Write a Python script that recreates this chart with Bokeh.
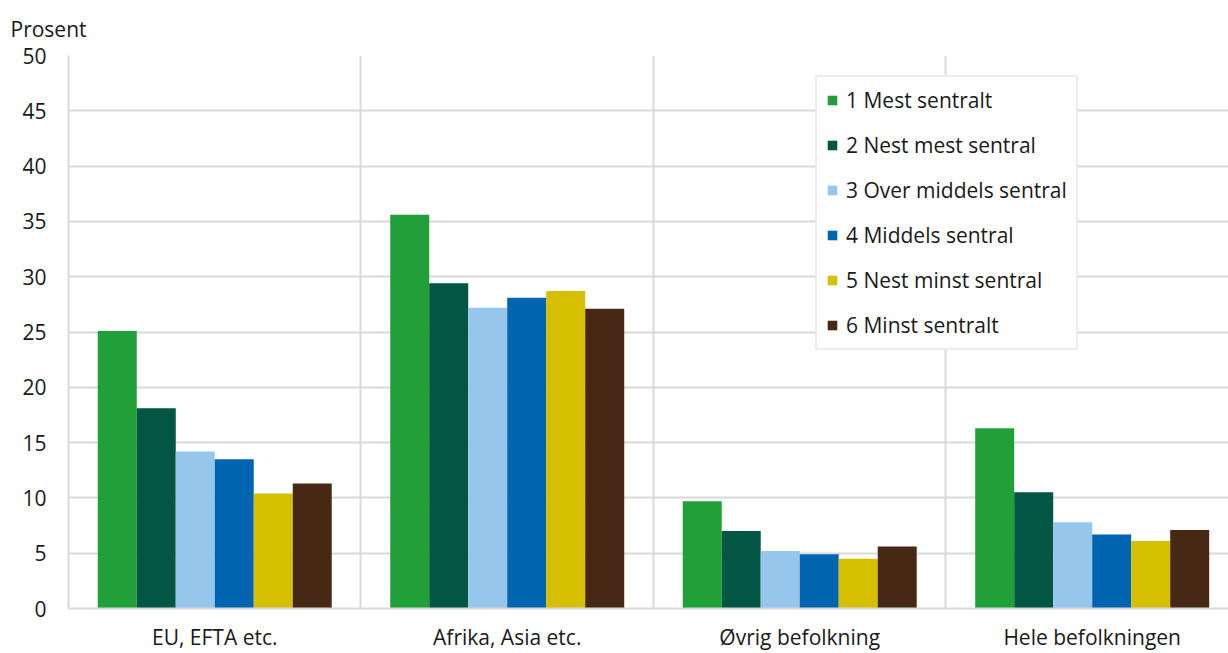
from bokeh.plotting import figure
from bokeh.models import Range1d, FixedTicker, Legend, LegendItem
from bokeh.embed import file_html
from bokeh.resources import INLINE

categories = ["EU, EFTA etc.", "Afrika, Asia etc.", "Øvrig befolkning", "Hele befolkningen"]
series_names = ["1 Mest sentralt", "2 Nest mest sentral", "3 Over middels sentral",
                "4 Middels sentral", "5 Nest minst sentral", "6 Minst sentralt"]
s1 = [25.1, 35.6, 9.7, 16.3]
s2 = [18.1, 29.4, 7.0, 10.5]
s3 = [14.2, 27.2, 5.2, 7.8]
s4 = [13.5, 28.1, 4.9, 6.7]
s5 = [10.4, 28.7, 4.5, 6.1]
s6 = [11.3, 27.1, 5.6, 7.1]
colors = ["#21a039", "#035544", "#96c6eb", "#0064b0", "#d6be00", "#472814"]
y_ticks = [0, 5, 10, 15, 20, 25, 30, 35, 40, 45, 50]

series = [s1, s2, s3, s4, s5, s6]
FONT = "Open Sans"
TXT = "#1a1a1a"
GRID = "#d9d9d9"
FS = "21px"

p = figure(width=1228, height=653, output_backend="svg", toolbar_location=None,
           x_range=Range1d(0, 3.966), y_range=Range1d(0, 50),
           min_border_left=68, min_border_right=0, min_border_bottom=45, min_border_top=55)
p.outline_line_color = None
p.background_fill_color = "white"

n = len(series)
bw = 0.8 / n
items = []
for j, (vals, name, col) in enumerate(zip(series, series_names, colors)):
    xs = [i + 0.1 + bw * (j + 0.5) for i in range(len(categories))]
    r = p.vbar(x=xs, top=vals, width=bw, fill_color=col, line_color=None)
    items.append(LegendItem(label=name, renderers=[r]))

# axes
p.xaxis.ticker = FixedTicker(ticks=[i + 0.5 for i in range(len(categories))])
p.xaxis.major_label_overrides = {i + 0.5: c for i, c in enumerate(categories)}
p.yaxis.ticker = FixedTicker(ticks=y_ticks)
for ax in (p.xaxis[0], p.yaxis[0]):
    ax.major_tick_line_color = None
    ax.minor_tick_line_color = None
    ax.axis_line_color = GRID
    ax.axis_line_width = 2
    ax.major_label_text_font = FONT
    ax.major_label_text_font_size = FS
    ax.major_label_text_color = TXT
p.xaxis.major_label_standoff = 8
p.yaxis.major_label_standoff = 16

p.ygrid.ticker = FixedTicker(ticks=y_ticks[1:])
p.ygrid.grid_line_color = GRID
p.ygrid.grid_line_width = 2
p.xgrid.ticker = FixedTicker(ticks=[1, 2, 3])
p.xgrid.grid_line_color = GRID
p.xgrid.grid_line_width = 2
p.ygrid.level = "underlay"
p.xgrid.level = "underlay"

p.title.text = "Prosent"
p.title.text_font = FONT
p.title.text_font_size = FS
p.title.text_font_style = "normal"
p.title.text_color = TXT
p.title.align = "left"
p.title.offset = -58
p.title.standoff = 25

legend = Legend(items=items, location=(747, 258))
legend.label_text_font = FONT
legend.label_text_font_size = FS
legend.label_text_color = TXT
legend.glyph_width = 12
legend.glyph_height = 12
legend.label_standoff = 8
legend.label_height = 24
legend.spacing = 17
legend.padding = 9
legend.margin = 0
legend.border_line_color = GRID
legend.border_line_width = 2
legend.background_fill_color = "white"
legend.background_fill_alpha = 1
p.add_layout(legend)

open("out.html", "w").write(file_html(p, INLINE))
